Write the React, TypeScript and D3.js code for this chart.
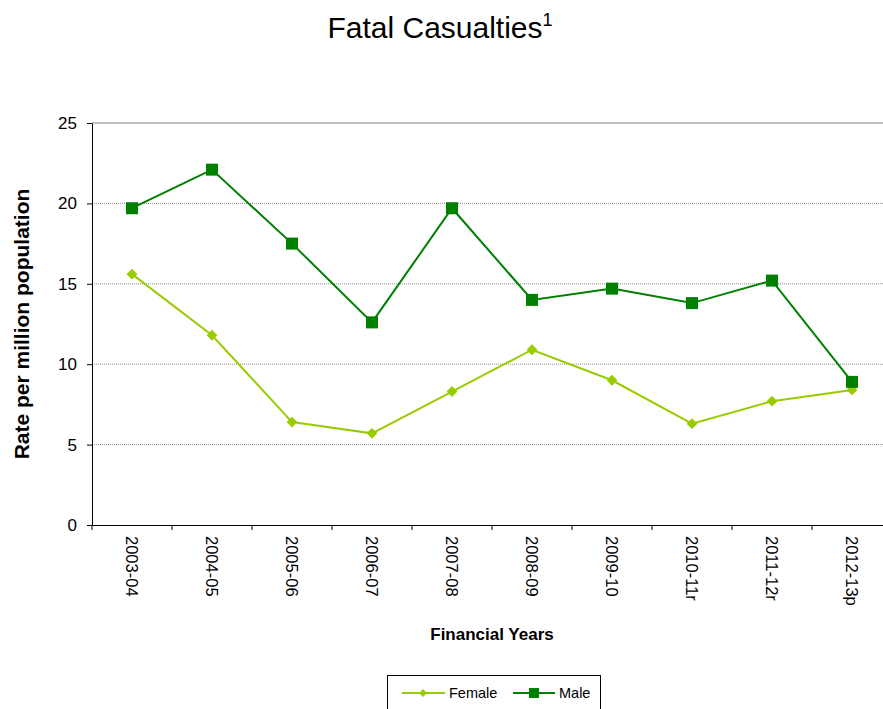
import React, { useRef, useEffect } from 'react';
import * as d3 from 'd3';

const categories = ['2003-04', '2004-05', '2005-06', '2006-07', '2007-08', '2008-09', '2009-10', '2010-11r', '2011-12r', '2012-13p'];
const femaleValues = [15.6, 11.8, 6.4, 5.7, 8.3, 10.9, 9.0, 6.3, 7.7, 8.4];
const maleValues = [19.7, 22.1, 17.5, 12.6, 19.7, 14.0, 14.7, 13.8, 15.2, 8.9];
const yTicks = [0, 5, 10, 15, 20, 25];

const FEMALE = '#99cc00';
const MALE = '#008000';

const App: React.FC = () => {
  const svgRef = useRef<SVGSVGElement>(null);
  const width = 883;
  const height = 709;

  useEffect(() => {
    if (!svgRef.current) return;
    const root = d3.select(svgRef.current);
    root.selectAll('*').remove();

    const left = 92;
    const right = 892;
    const top = 123;
    const bottom = 525;
    const font = 'Liberation Sans, Arial, sans-serif';

    const x = d3.scaleBand().domain(categories).range([left, right]);
    const y = d3.scaleLinear().domain([0, 25]).range([bottom, top]);
    const cx = (c: string) => (x(c) as number) + x.bandwidth() / 2;

    // title
    const title = root.append('text')
      .attr('x', 440)
      .attr('y', 38)
      .attr('text-anchor', 'middle')
      .style('font-family', font)
      .style('font-size', '30px')
      .attr('fill', '#000');
    title.append('tspan').text('Fatal Casualties');
    title.append('tspan').attr('dy', -12).style('font-size', '18px').text('1');

    // grid lines
    root.append('g')
      .selectAll('line')
      .data(yTicks.filter((d) => d > 0 && d < 25))
      .enter()
      .append('line')
      .attr('x1', left)
      .attr('x2', right)
      .attr('y1', (d) => y(d))
      .attr('y2', (d) => y(d))
      .attr('stroke', '#8c8c8c')
      .attr('stroke-width', 1)
      .attr('stroke-dasharray', '1,1');

    // top border
    root.append('line')
      .attr('x1', left).attr('x2', right)
      .attr('y1', y(25)).attr('y2', y(25))
      .attr('stroke', '#808080');

    // y axis
    const yAxis = root.append('g')
      .attr('transform', `translate(${left},0)`)
      .call(d3.axisLeft(y).tickValues(yTicks).tickSize(5).tickSizeOuter(0));
    yAxis.select('.domain').attr('stroke', '#000');
    yAxis.selectAll('.tick line').attr('stroke', '#000');
    yAxis.selectAll('text')
      .attr('x', -15)
      .style('font-family', font)
      .style('font-size', '17px')
      .attr('fill', '#000');

    // x axis
    const xAxis = root.append('g')
      .attr('transform', `translate(0,${bottom})`)
      .call(d3.axisBottom(x).tickSize(0).tickSizeOuter(0));
    xAxis.select('.domain').attr('stroke', '#000');
    xAxis.selectAll('.tick text')
      .attr('transform', 'rotate(90)')
      .attr('x', 11)
      .attr('y', 0)
      .attr('dy', '0.35em')
      .style('text-anchor', 'start')
      .style('font-family', font)
      .style('font-size', '16.5px')
      .attr('fill', '#000');
    // boundary ticks
    root.append('g')
      .selectAll('line')
      .data(d3.range(categories.length + 1))
      .enter()
      .append('line')
      .attr('x1', (i) => left + i * x.bandwidth())
      .attr('x2', (i) => left + i * x.bandwidth())
      .attr('y1', bottom)
      .attr('y2', bottom + 5)
      .attr('stroke', '#000');

    // axis titles
    root.append('text')
      .attr('transform', `translate(29,${(top + bottom) / 2}) rotate(-90)`)
      .attr('text-anchor', 'middle')
      .style('font-family', font)
      .style('font-size', '21px')
      .style('font-weight', 'bold')
      .text('Rate per million population');

    root.append('text')
      .attr('x', 492)
      .attr('y', 640)
      .attr('text-anchor', 'middle')
      .style('font-family', font)
      .style('font-size', '17px')
      .style('font-weight', 'bold')
      .text('Financial Years');

    // lines
    const line = d3.line<number>()
      .x((_, i) => cx(categories[i]))
      .y((d) => y(d));

    root.append('path')
      .datum(femaleValues)
      .attr('d', line)
      .attr('fill', 'none')
      .attr('stroke', FEMALE)
      .attr('stroke-width', 2);

    root.append('path')
      .datum(maleValues)
      .attr('d', line)
      .attr('fill', 'none')
      .attr('stroke', MALE)
      .attr('stroke-width', 2);

    const diamond = d3.symbol().type(d3.symbolDiamond2).size(75);
    root.append('g')
      .selectAll('path')
      .data(femaleValues)
      .enter()
      .append('path')
      .attr('d', diamond)
      .attr('transform', (d, i) => `translate(${cx(categories[i])},${y(d)})`)
      .attr('fill', FEMALE);

    root.append('g')
      .selectAll('rect')
      .data(maleValues)
      .enter()
      .append('rect')
      .attr('x', (_, i) => cx(categories[i]) - 6)
      .attr('y', (d) => y(d) - 6)
      .attr('width', 12)
      .attr('height', 12)
      .attr('fill', MALE);

    // legend
    const lg = root.append('g');
    lg.append('rect')
      .attr('x', 387.5)
      .attr('y', 675.5)
      .attr('width', 213)
      .attr('height', 40)
      .attr('fill', '#fff')
      .attr('stroke', '#000');
    lg.append('line').attr('x1', 402).attr('x2', 445).attr('y1', 693).attr('y2', 693)
      .attr('stroke', FEMALE).attr('stroke-width', 2);
    lg.append('path').attr('d', d3.symbol().type(d3.symbolDiamond2).size(40))
      .attr('transform', 'translate(423,693)').attr('fill', FEMALE);
    lg.append('text').attr('x', 449).attr('y', 698)
      .style('font-family', font).style('font-size', '14.5px').text('Female');
    lg.append('line').attr('x1', 513).attr('x2', 555).attr('y1', 693).attr('y2', 693)
      .attr('stroke', MALE).attr('stroke-width', 2);
    lg.append('rect').attr('x', 529).attr('y', 688).attr('width', 10).attr('height', 10)
      .attr('fill', MALE);
    lg.append('text').attr('x', 559).attr('y', 698)
      .style('font-family', font).style('font-size', '14.5px').text('Male');
  }, []);

  return (
    <div style={{ position: 'absolute', left: 0, top: 0 }}>
      <svg ref={svgRef} width={width} height={height} style={{ display: 'block' }}></svg>
    </div>
  );
};

export default App;
